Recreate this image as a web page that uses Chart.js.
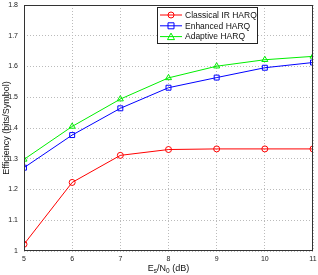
<!DOCTYPE html>
<html>
<head>
<meta charset="utf-8">
<script src="https://cdn.jsdelivr.net/npm/chart.js@4/dist/chart.umd.min.js"></script>
<style>
  html, body { margin: 0; padding: 0; background: #fff; }
  #wrap { width: 318px; height: 275px; }
</style>
</head>
<body>
<div id="wrap"><canvas id="c" width="318" height="275"></canvas></div>
<script>
// Data
const snr = [5, 6, 7, 8, 9, 10, 11];
const classicalIR = [1.022, 1.223, 1.311, 1.330, 1.332, 1.332, 1.332];
const enhanced = [1.271, 1.377, 1.464, 1.531, 1.564, 1.596, 1.613];
const adaptive = [1.298, 1.405, 1.494, 1.563, 1.601, 1.622, 1.633];
const yTicks = [1, 1.1, 1.2, 1.3, 1.4, 1.5, 1.6, 1.7, 1.8];

const FONT = "'Liberation Sans', Arial, sans-serif";

function pts(arr) {
    return snr.map((x, i) => ({ x: x, y: arr[i] }));
}

function drawMarker(ctx, style, x, y, color) {
    ctx.save();
    ctx.strokeStyle = color;
    ctx.lineWidth = 1;
    ctx.beginPath();
    if (style === 'circle') {
        ctx.arc(x, y, 3, 0, Math.PI * 2);
    } else if (style === 'rect') {
        ctx.rect(x - 3, y - 3, 6, 6);
    } else {
        ctx.moveTo(x, y - 3.5);
        ctx.lineTo(x + 3.5, y + 3);
        ctx.lineTo(x - 3.5, y + 3);
        ctx.closePath();
    }
    ctx.stroke();
    ctx.restore();
}

// MATLAB-like box, tick labels, legend and axis titles
const matlabDecor = {
    id: 'matlabDecor',
    afterDraw(chart) {
        const ctx = chart.ctx;
        const a = chart.chartArea;
        const xs = chart.scales.x, ys = chart.scales.y;
        ctx.save();
        ctx.strokeStyle = '#333';
        ctx.lineWidth = 1;
        ctx.strokeRect(a.left + 0.5, a.top + 0.5, a.right - a.left - 1, a.bottom - a.top - 1);

        // tick labels
        ctx.fillStyle = '#222';
        ctx.font = '7px ' + FONT;
        ctx.textAlign = 'right';
        ctx.textBaseline = 'middle';
        yTicks.forEach(v => {
            ctx.fillText(String(v), a.left - 6, ys.getPixelForValue(v));
        });
        ctx.textAlign = 'center';
        ctx.textBaseline = 'top';
        snr.forEach(v => {
            ctx.fillText(String(v), xs.getPixelForValue(v), a.bottom + 5);
        });

        // legend
        const lx = 157, ly = 7, lw = 100, lh = 36;
        ctx.fillStyle = '#fff';
        ctx.fillRect(lx, ly, lw, lh);
        ctx.strokeStyle = '#222';
        ctx.strokeRect(lx + 0.5, ly + 0.5, lw, lh);
        ctx.font = '8.5px ' + FONT;
        ctx.textBaseline = 'middle';
        chart.data.datasets.forEach((ds, i) => {
            const y = ly + 8 + i * 10.8;
            ctx.strokeStyle = ds.borderColor;
            ctx.lineWidth = 1;
            ctx.beginPath();
            ctx.moveTo(lx + 3, y);
            ctx.lineTo(lx + 25, y);
            ctx.stroke();
            drawMarker(ctx, ds.pointStyle, lx + 14, y, ds.borderColor);
            ctx.fillStyle = '#111';
            ctx.textAlign = 'left';
            ctx.fillText(ds.label, lx + 28, y + 0.5);
        });

        // x title: Es/N0 (dB)
        ctx.fillStyle = '#111';
        ctx.textBaseline = 'alphabetic';
        const parts = [['E', 0], ['s', 1], ['/N', 0], ['0', 1], [' (dB)', 0]];
        let total = 0;
        parts.forEach(p => {
            ctx.font = (p[1] ? '6.5px ' : '9px ') + FONT;
            total += ctx.measureText(p[0]).width;
        });
        let x = (a.left + a.right) / 2 - total / 2;
        parts.forEach(p => {
            ctx.font = (p[1] ? '6.5px ' : '9px ') + FONT;
            ctx.textAlign = 'left';
            ctx.fillText(p[0], x, p[1] ? 273 : 271);
            x += ctx.measureText(p[0]).width;
        });

        // y title
        ctx.save();
        ctx.translate(7, (a.top + a.bottom) / 2);
        ctx.rotate(-Math.PI / 2);
        ctx.font = '9px ' + FONT;
        ctx.textAlign = 'center';
        ctx.textBaseline = 'middle';
        ctx.fillText('Efficiency (bits/Symbol)', 0, 0);
        ctx.restore();
        ctx.restore();
    }
};

const series = [
    { label: 'Classical IR HARQ', values: classicalIR, color: '#ff0000', marker: 'circle', r: 3 },
    { label: 'Enhanced HARQ', values: enhanced, color: '#0000ff', marker: 'rect', r: 3.5 },
    { label: 'Adaptive HARQ', values: adaptive, color: '#00ee00', marker: 'triangle', r: 3.5 }
];

new Chart(document.getElementById('c'), {
    type: 'line',
    data: {
        datasets: series.map(s => ({
            label: s.label,
            data: pts(s.values),
            borderColor: s.color,
            backgroundColor: 'transparent',
            pointBackgroundColor: 'transparent',
            pointBorderColor: s.color,
            pointStyle: s.marker,
            pointRadius: s.r,
            pointBorderWidth: 1,
            borderWidth: 1,
            tension: 0
        }))
    },
    plugins: [matlabDecor],
    options: {
        responsive: false,
        animation: false,
        layout: { padding: { top: 2, right: 2, left: 0, bottom: 0 } },
        plugins: { legend: { display: false }, tooltip: { enabled: false } },
        scales: {
            x: {
                type: 'linear',
                min: 5, max: 11,
                afterFit(scale) { scale.height = 24; },
                afterBuildTicks(scale) { scale.ticks = snr.map(v => ({ value: v })); },
                grid: { color: '#bbbbbb', drawTicks: false },
                border: { display: false, dash: [1, 2] },
                ticks: { display: false }
            },
            y: {
                type: 'linear',
                min: 1, max: 1.8,
                afterFit(scale) { scale.width = 24; },
                afterBuildTicks(scale) { scale.ticks = yTicks.map(v => ({ value: v })); },
                grid: { color: '#bbbbbb', drawTicks: false },
                border: { display: false, dash: [1, 2] },
                ticks: { display: false }
            }
        }
    }
});
</script>
</body>
</html>
